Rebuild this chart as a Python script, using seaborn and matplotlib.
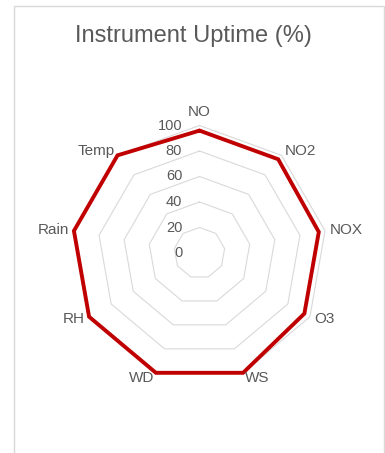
import numpy as np
import pandas as pd
import matplotlib
matplotlib.use("Agg")
import matplotlib.pyplot as plt
from matplotlib.patches import Rectangle
import seaborn as sns

# Instrument uptime per parameter (%)
categories = ["NO", "NO2", "NOX", "O3", "WS", "WD", "RH", "Rain", "Temp"]
uptime = [96, 96, 95, 95, 100, 100, 100, 100, 100]
ring_levels = [20, 40, 60, 80, 100]
tick_labels = ["0", "20", "40", "60", "80", "100"]
tick_values = [0, 20, 40, 60, 80, 100]

sns.set_theme(style="white")
plt.rcParams["font.family"] = ["Liberation Sans", "DejaVu Sans"]

TEXT = "#595959"
GRID = "#d9d9d9"
RED = "#c00000"

W, H = 385, 453
fig = plt.figure(figsize=(W / 100, H / 100), dpi=100)
fig.patch.set_facecolor("white")

# chart-area border
fig.patches.append(Rectangle((13.5 / W, -0.05), 370 / W, (H - 6.5) / H + 0.05,
                             transform=fig.transFigure, fill=False,
                             edgecolor=GRID, linewidth=1.0, clip_on=False))

cx, cy, R = 199.5, 253, 127.5
ax = fig.add_axes([(cx - R) / W, (H - cy - R) / H, 2 * R / W, 2 * R / H],
                  projection="polar")
ax.set_theta_zero_location("N")
ax.set_theta_direction(-1)
ax.patch.set_alpha(0)

n = len(categories)
theta = np.arange(n) * 2 * np.pi / n
theta_closed = np.append(theta, 2 * np.pi)

# polygonal gridlines
for lvl in ring_levels:
    ax.plot(theta_closed, [lvl] * (n + 1), color=GRID, linewidth=0.8,
            clip_on=False, zorder=1)

df = pd.DataFrame({"theta": theta_closed, "uptime": uptime + [uptime[0]]})
sns.lineplot(data=df, x="theta", y="uptime", sort=False, estimator=None,
             color=RED, linewidth=2.8, ax=ax, zorder=3)
for ln in ax.lines[-1:]:
    ln.set_clip_on(False)
    ln.set_solid_joinstyle("miter")

ax.set_ylim(0, 100)
ax.grid(False)
ax.spines["polar"].set_visible(False)
ax.set_xticks([])
ax.set_yticks([])
ax.set_xlabel("")
ax.set_ylabel("")

# value labels along the first axis
for v, t in zip(tick_values, tick_labels):
    ax.annotate(t, xy=(0, v), xytext=(-12.5, 0), textcoords="offset points",
                ha="right", va="center", fontsize=10.5, color=TEXT,
                annotation_clip=False)

# category labels around the outside
for th, name in zip(theta, categories):
    s, c = np.sin(th), np.cos(th)
    d = 3.6
    if abs(s) < 0.1:
        ha, va = "center", "bottom"
        off = (0, 4.5)
    else:
        ha = "left" if s > 0 else "right"
        va = "center"
        off = (s * d, c * d)
    ax.annotate(name, xy=(th, 100), xytext=off, textcoords="offset points",
                ha=ha, va=va, fontsize=11, color=TEXT, annotation_clip=False)

fig.text(193.5 / W, (H - 42) / H, "Instrument Uptime (%)", ha="center",
         va="baseline", fontsize=17, color=TEXT)

fig.savefig("out.png", dpi=100)
